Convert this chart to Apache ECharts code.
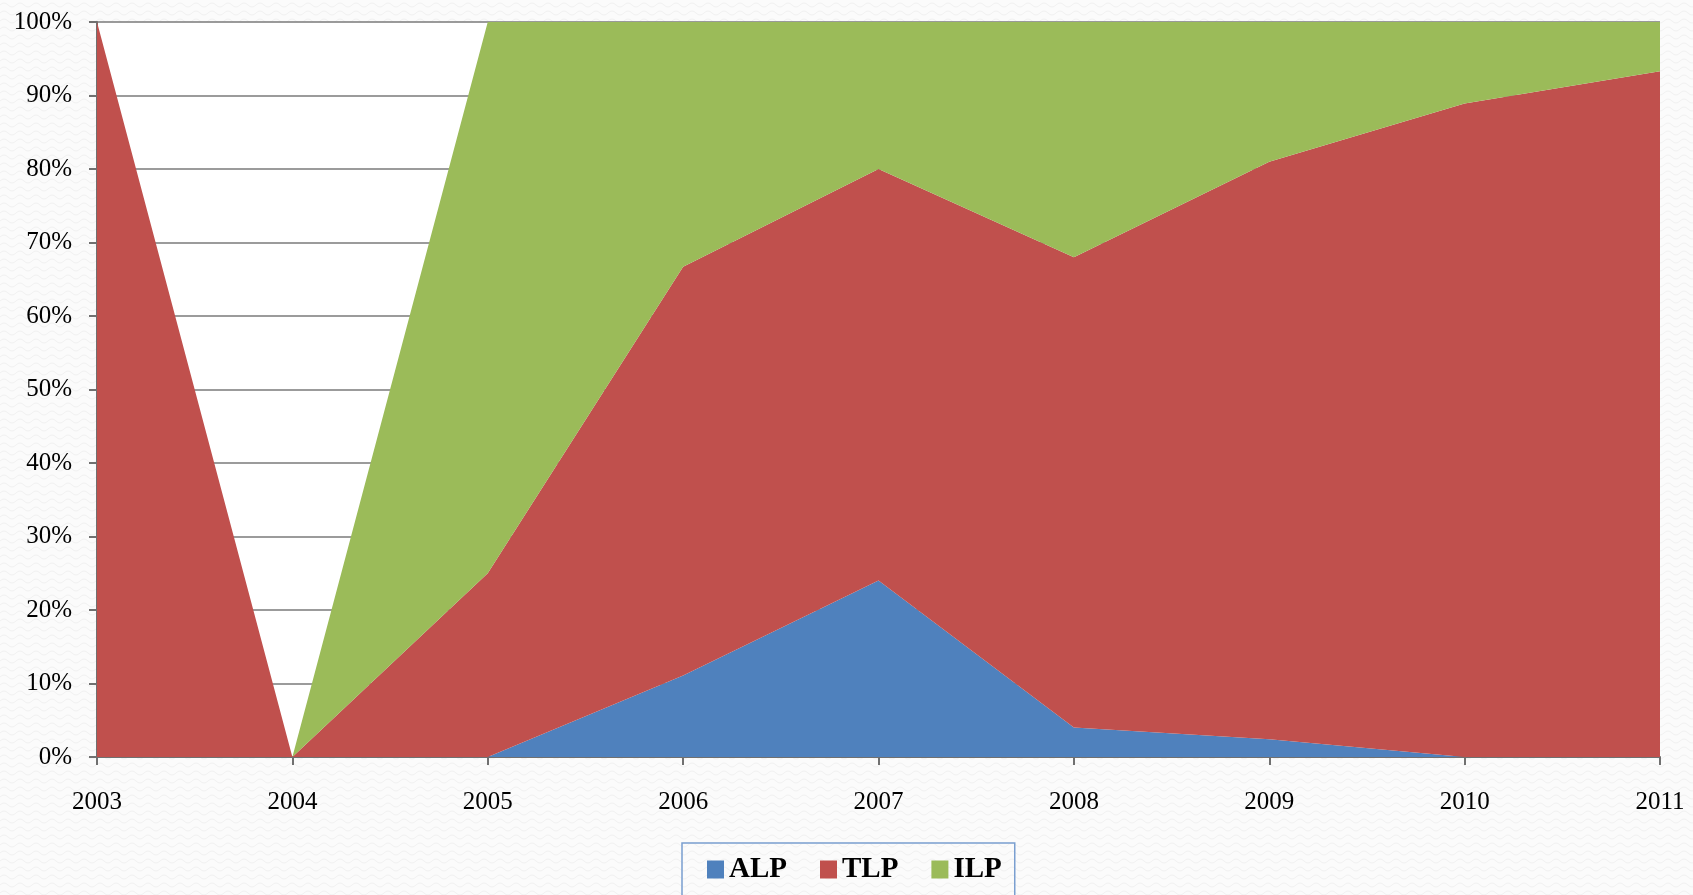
<!DOCTYPE html>
<html>
<head>
<meta charset="utf-8">
<script src="https://cdn.jsdelivr.net/npm/echarts@6/dist/echarts.min.js"></script>
<style>
  html, body { margin: 0; padding: 0; }
  #chart { width: 1693px; height: 895px; }
</style>
</head>
<body>
<div id="chart"></div>
<script>
// years on the x axis
const years = ['2003', '2004', '2005', '2006', '2007', '2008', '2009', '2010', '2011'];
// share of each type per year, in percent
const alp = [0, 0, 0, 11.1, 24, 4, 2.4, 0, 0];
const tlp = [100, 0, 25, 55.6, 56, 64, 78.6, 88.9, 93.3];
const ilp = [0, 0, 75, 33.3, 20, 32, 19, 11.1, 6.7];

// faint wavy texture for the page background
function makePattern() {
    const c = document.createElement('canvas');
    c.width = 16;
    c.height = 8;
    const ctx = c.getContext('2d');
    ctx.fillStyle = '#fbfbfb';
    ctx.fillRect(0, 0, 16, 8);
    ctx.strokeStyle = '#f1f1f1';
    ctx.lineWidth = 1;
    ctx.beginPath();
    ctx.moveTo(0, 5);
    ctx.quadraticCurveTo(4, 1, 8, 5);
    ctx.quadraticCurveTo(12, 9, 16, 5);
    ctx.stroke();
    return c;
}

const chart = echarts.init(document.getElementById('chart'));
const font = '"Liberation Serif", "DejaVu Serif", serif';

let option = {
    backgroundColor: { image: makePattern(), repeat: 'repeat' },
    color: ['#4F81BD', '#C0504D', '#9BBB59'],
    animation: false,
    grid: {
        left: 97,
        right: 33,
        top: 22,
        bottom: 138,
        show: true,
        backgroundColor: '#ffffff',
        borderWidth: 0
    },
    legend: {
        left: 682,
        top: 843,
        padding: [12, 13, 30, 25],
        itemGap: 33,
        itemWidth: 17,
        itemHeight: 18,
        icon: 'rect',
        borderColor: '#7a9fd0',
        borderWidth: 1.5,
        textStyle: {
            fontFamily: font,
            fontWeight: 'bold',
            fontSize: 29,
            color: '#000'
        },
        data: ['ALP', 'TLP', 'ILP']
    },
    xAxis: {
        type: 'category',
        boundaryGap: false,
        data: years,
        axisLine: { lineStyle: { color: '#707070', width: 2 } },
        axisTick: { show: true, length: 8, lineStyle: { color: '#707070', width: 2 } },
        axisLabel: {
            margin: 33,
            fontFamily: font,
            fontSize: 25,
            color: '#000'
        },
        splitLine: { show: false }
    },
    yAxis: {
        type: 'value',
        min: 0,
        max: 100,
        interval: 10,
        axisLine: { show: true, lineStyle: { color: '#707070', width: 2 } },
        axisTick: { show: true, length: 8, lineStyle: { color: '#707070', width: 2 } },
        axisLabel: {
            margin: 25,
            formatter: '{value}%',
            fontFamily: font,
            fontSize: 25,
            color: '#000'
        },
        splitLine: { lineStyle: { color: '#7a7a7a', width: 1.5 } }
    },
    series: [
        {
            name: 'ALP',
            type: 'line',
            stack: 'total',
            data: alp,
            symbol: 'none',
            lineStyle: { width: 0 },
            areaStyle: { opacity: 1 }
        },
        {
            name: 'TLP',
            type: 'line',
            stack: 'total',
            data: tlp,
            symbol: 'none',
            lineStyle: { width: 0 },
            areaStyle: { opacity: 1 }
        },
        {
            name: 'ILP',
            type: 'line',
            stack: 'total',
            data: ilp,
            symbol: 'none',
            lineStyle: { width: 0 },
            areaStyle: { opacity: 1 }
        }
    ]
};
chart.setOption(option);
</script>
</body>
</html>
